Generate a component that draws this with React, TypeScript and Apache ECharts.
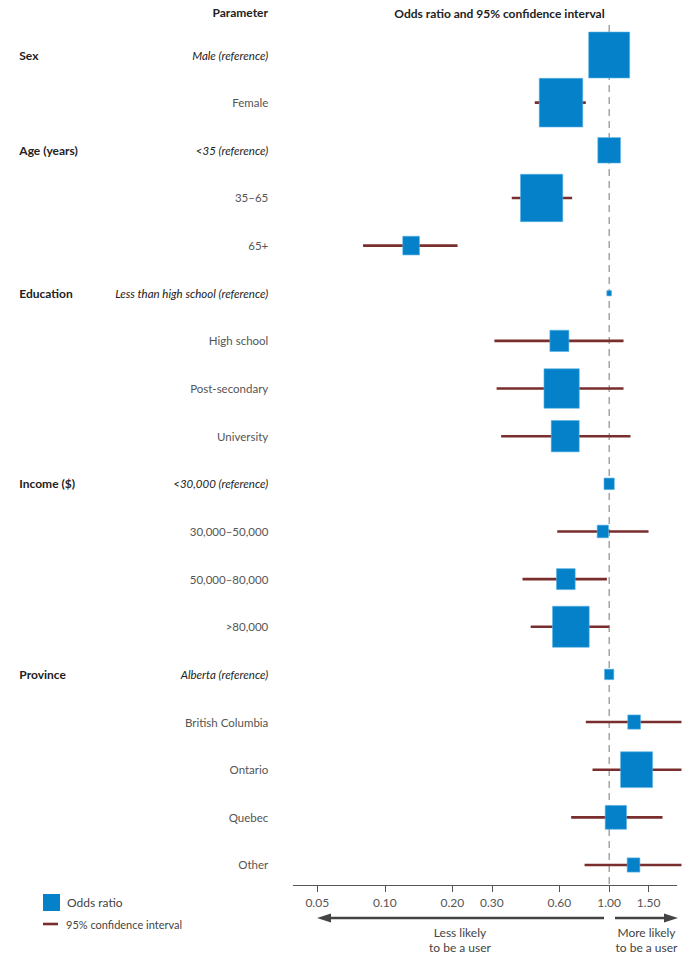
import React, { useEffect, useRef } from "react";
import * as echarts from "echarts";

const groups = ["Sex", "", "Age (years)", "", "", "Education", "", "", "", "Income ($)", "", "", "", "Province", "", "", "", ""];
const params = [
  "Male (reference)", "Female", "<35 (reference)", "35–65", "65+",
  "Less than high school (reference)", "High school", "Post-secondary", "University",
  "<30,000 (reference)", "30,000–50,000", "50,000–80,000", ">80,000",
  "Alberta (reference)", "British Columbia", "Ontario", "Quebec", "Other",
];
const oddsRatio = [1.0, 0.61, 1.0, 0.5, 0.131, 1.0, 0.6, 0.614, 0.637, 1.0, 0.937, 0.641, 0.675, 1.0, 1.292, 1.325, 1.071, 1.284];
const ciLow: (number | null)[] = [null, 0.466, null, 0.368, 0.08, null, 0.308, 0.315, 0.33, null, 0.587, 0.411, 0.447, null, 0.787, 0.843, 0.677, 0.777];
const ciHigh: (number | null)[] = [null, 0.787, null, 0.684, 0.211, null, 1.159, 1.159, 1.245, null, 1.498, 0.977, 1.0, null, 2.1, 2.1, 1.729, 2.1];
const boxWeights = [41, 43.5, 22.7, 42.3, 16.7, 4.7, 19, 35.3, 28, 10.3, 11.3, 18.7, 36.7, 9.3, 12.7, 32, 21.3, 12.7];
const xTicks = [0.05, 0.1, 0.2, 0.3, 0.6, 1.0, 1.5];
const xRange = [0.0391, 2.0];
const referenceValue = 1.0;

const BLUE = "#0481C8";
const RED = "#7A2D2D";
const FONT = "Lato, 'Open Sans', sans-serif";

export default function App() {
  const ref = useRef<HTMLDivElement>(null);
  useEffect(() => {
    document.body.style.margin = "0";
    const chart = echarts.init(ref.current!, null, { renderer: "svg" });
    const lg = (v: number) => Math.log10(v);
    const yMin = -0.63;
    const yMax = 17.42;
    const ciData = params
      .map((_, i) => (ciLow[i] != null && ciHigh[i] != null ? [lg(ciLow[i]!), i, lg(ciHigh[i]!)] : null))
      .filter((d) => d !== null);
    const boxData = params.map((_, i) => [lg(oddsRatio[i]), i, boxWeights[i]]);

    chart.setOption({
      animation: false,
      textStyle: { fontFamily: FONT },
      grid: { left: 293.3, right: 11.3, top: 25, bottom: 76 },
      xAxis: {
        type: "value",
        position: "bottom",
        min: lg(xRange[0]),
        max: lg(xRange[1]),
        splitLine: { show: false },
        axisLine: { onZero: false, lineStyle: { color: "#555", width: 1 } },
        axisTick: { show: true, customValues: xTicks.map(lg), length: 7, lineStyle: { color: "#555" } },
        axisLabel: {
          customValues: xTicks.map(lg),
          formatter: (v: number) => Math.pow(10, v).toFixed(2),
          color: "#555",
          fontSize: 12,
          fontFamily: FONT,
          margin: 11,
        },
      },
      yAxis: {
        type: "value",
        inverse: true,
        min: yMin,
        max: yMax,
        splitLine: { show: false },
        axisLine: { show: false, onZero: false },
        axisTick: { show: false },
        axisLabel: {
          customValues: params.map((_, i) => i),
          margin: 25,
          formatter: (v: number) => {
            const i = Math.round(v);
            const g = groups[i] || " ";
            const p = params[i];
            const isRef = p.indexOf("(reference)") >= 0;
            return `{h|${g}}{${isRef ? "r" : "n"}|${p}}`;
          },
          rich: {
            h: { width: 95, align: "left", fontWeight: "bold", fontSize: 12, color: "#222", fontFamily: FONT },
            r: { width: 154, align: "right", fontStyle: "italic", fontSize: 11.5, color: "#222", fontFamily: FONT },
            n: { width: 154, align: "right", fontSize: 11.5, color: "#555", fontFamily: FONT },
          },
        },
      },
      series: [
        {
          type: "line",
          data: [[lg(referenceValue), yMin], [lg(referenceValue), yMax]],
          symbol: "none",
          lineStyle: { color: "#777", width: 1, type: [7, 5] },
          silent: true,
          z: 1,
        },
        {
          type: "custom",
          clip: false,
          encode: { x: [0, 2], y: 1 },
          data: ciData,
          z: 2,
          renderItem: (_p: any, api: any) => {
            const a = api.coord([api.value(0), api.value(1)]);
            const b = api.coord([api.value(2), api.value(1)]);
            return {
              type: "line",
              shape: { x1: a[0], y1: a[1], x2: b[0], y2: b[1] },
              style: { stroke: RED, lineWidth: 2.6 },
            };
          },
        },
        {
          type: "custom",
          clip: false,
          encode: { x: 0, y: 1 },
          data: boxData,
          z: 3,
          renderItem: (_p: any, api: any) => {
            const c = api.coord([api.value(0), api.value(1)]);
            const w = api.value(2);
            const h = w * 1.12;
            return {
              type: "rect",
              shape: { x: c[0] - w / 2, y: c[1] - h / 2, width: w, height: h },
              style: { fill: BLUE, stroke: "#5BB4E6", lineWidth: 0.6 },
            };
          },
        },
      ],
      graphic: [
        { type: "text", right: 688 - 268, top: 6, style: { text: "Parameter", font: `bold 12px ${FONT}`, fill: "#222" } },
        { type: "text", x: 499.5, y: 13, style: { text: "Odds ratio and 95% confidence interval", font: `bold 12px ${FONT}`, fill: "#222", align: "center", verticalAlign: "middle" } },
        // arrows
        { type: "line", shape: { x1: 328, y1: 918, x2: 604, y2: 918 }, style: { stroke: "#444", lineWidth: 2.6 } },
        { type: "polygon", shape: { points: [[317, 918], [331, 913.5], [331, 922.5]] }, style: { fill: "#444" } },
        { type: "line", shape: { x1: 615, y1: 918, x2: 667, y2: 918 }, style: { stroke: "#444", lineWidth: 2.6 } },
        { type: "polygon", shape: { points: [[678, 918], [664, 913.5], [664, 922.5]] }, style: { fill: "#444" } },
        { type: "text", x: 460, y: 932, style: { text: "Less likely", font: `12px ${FONT}`, fill: "#444", align: "center", verticalAlign: "middle" } },
        { type: "text", x: 460, y: 947, style: { text: "to be a user", font: `12px ${FONT}`, fill: "#444", align: "center", verticalAlign: "middle" } },
        { type: "text", x: 646.5, y: 932, style: { text: "More likely", font: `12px ${FONT}`, fill: "#444", align: "center", verticalAlign: "middle" } },
        { type: "text", x: 646.5, y: 947, style: { text: "to be a user", font: `12px ${FONT}`, fill: "#444", align: "center", verticalAlign: "middle" } },
        // legend
        { type: "rect", shape: { x: 43, y: 894, width: 17, height: 17 }, style: { fill: BLUE } },
        { type: "text", x: 67, y: 902.5, style: { text: "Odds ratio", font: `12px ${FONT}`, fill: "#444", verticalAlign: "middle" } },
        { type: "line", shape: { x1: 43, y1: 924, x2: 58, y2: 924 }, style: { stroke: RED, lineWidth: 2.6 } },
        { type: "text", x: 66, y: 924, style: { text: "95% confidence interval", font: `11px ${FONT}`, fill: "#444", verticalAlign: "middle" } },
      ],
    });
    return () => chart.dispose();
  }, []);
  return <div ref={ref} style={{ position: "absolute", left: 0, top: 0, width: 688, height: 961 }} />;
}
